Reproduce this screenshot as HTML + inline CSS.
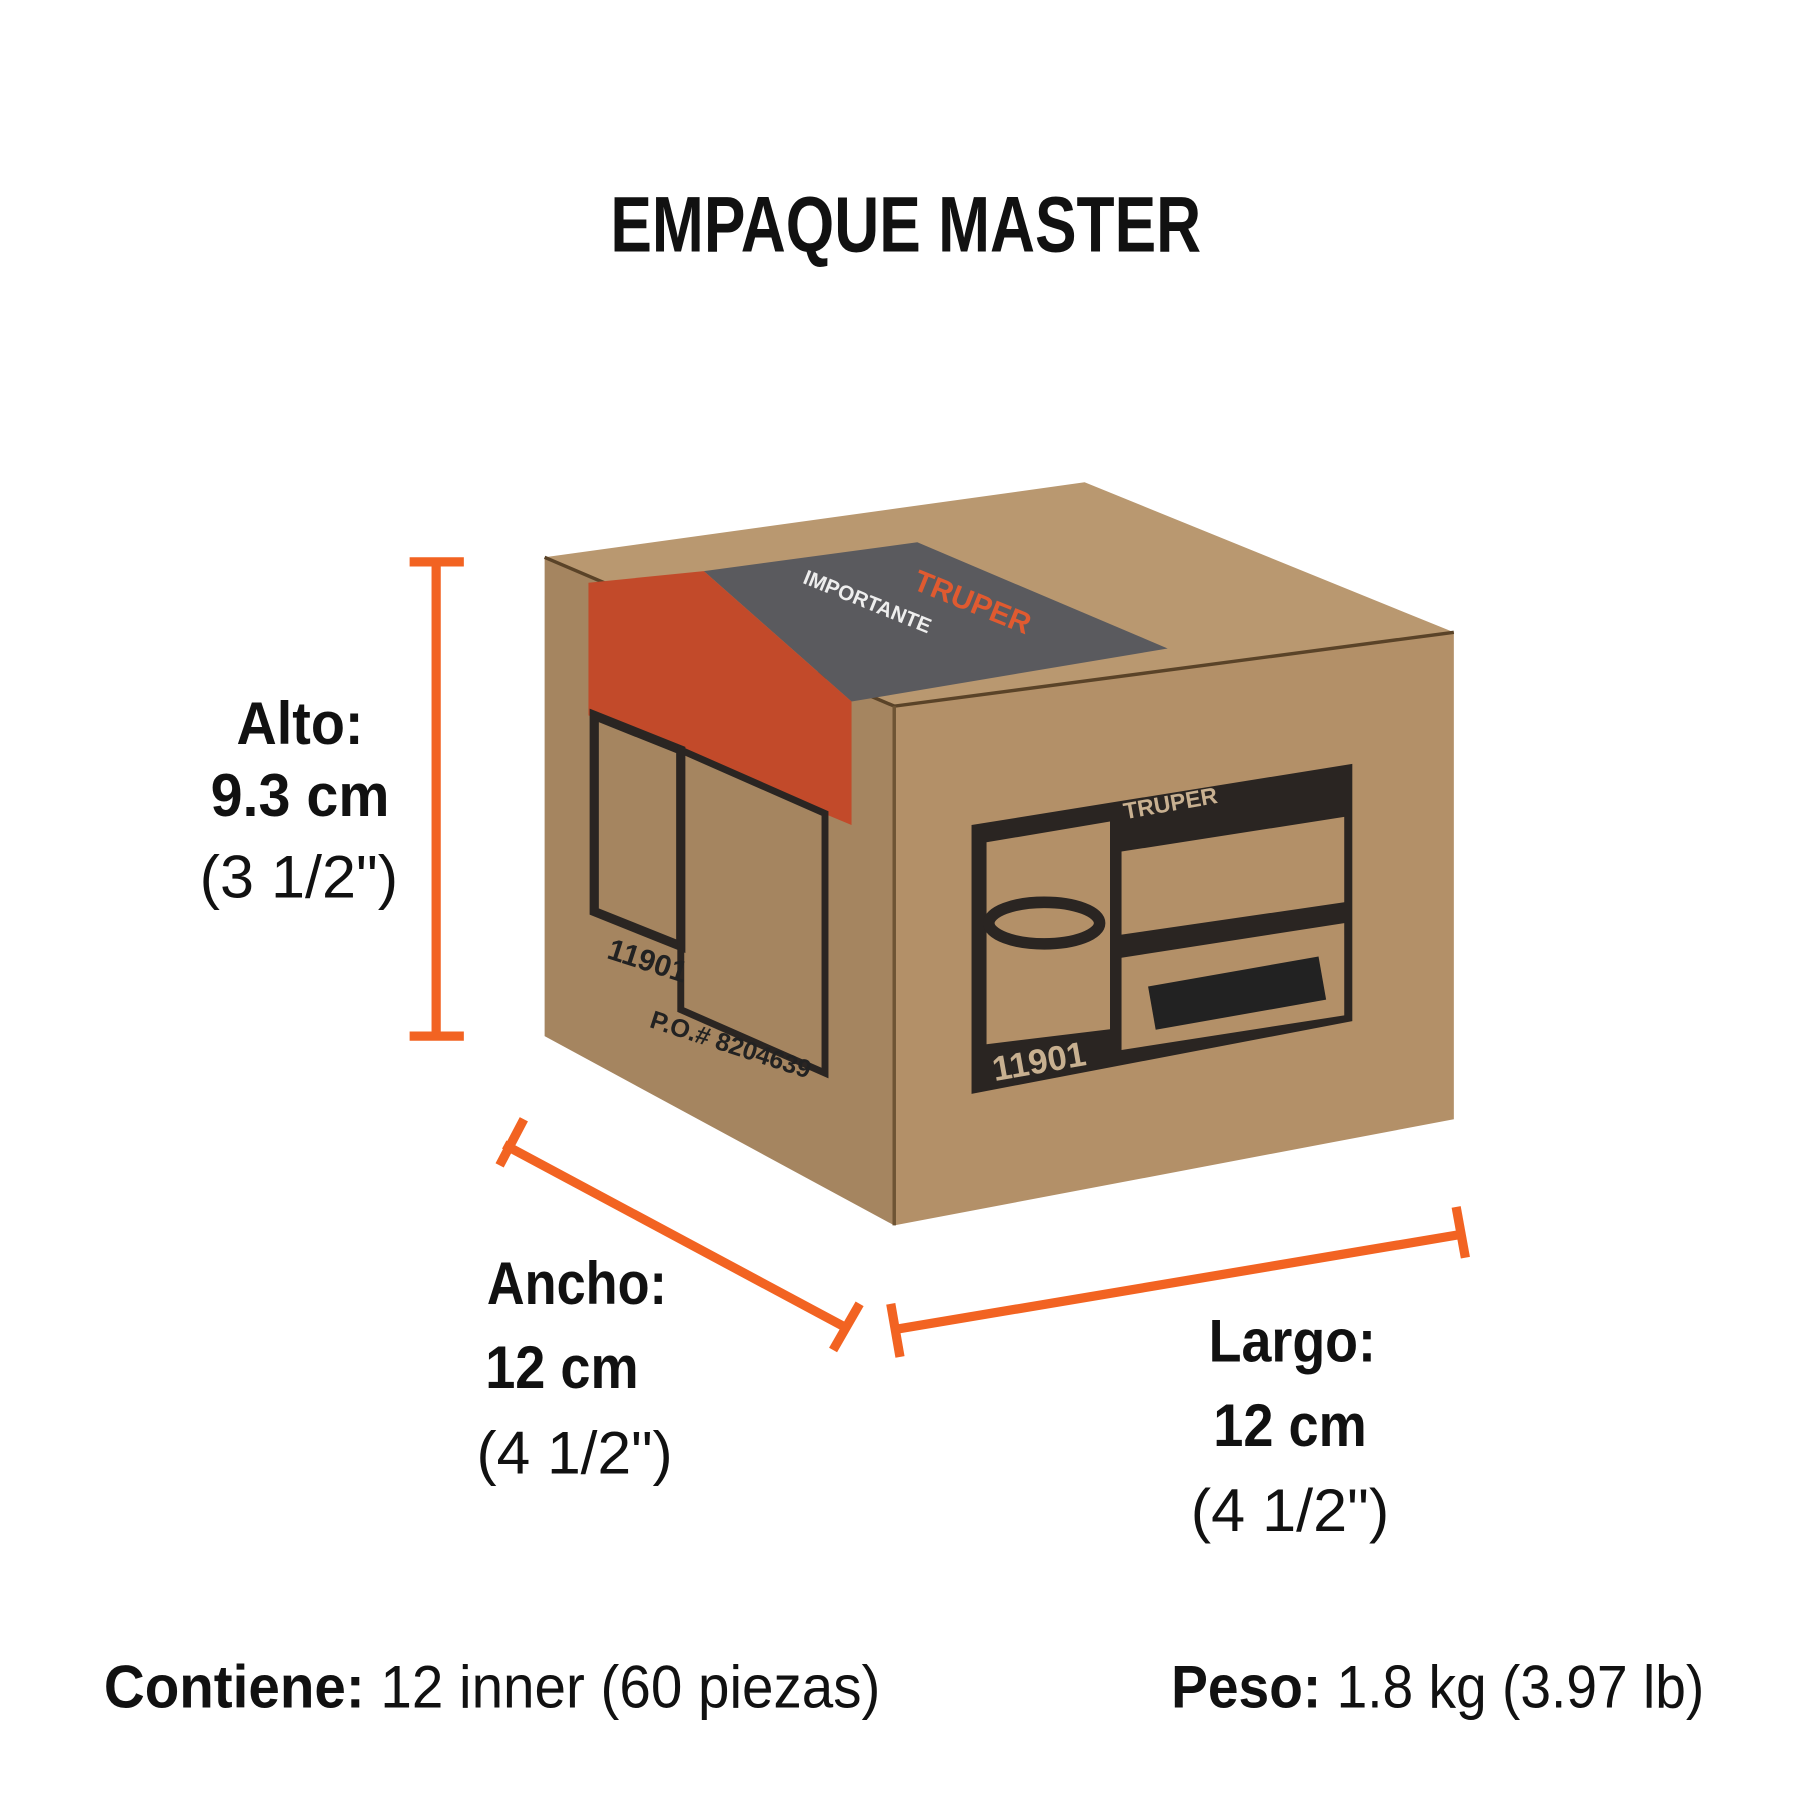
<!DOCTYPE html>
<html><head><meta charset="utf-8"><style>
html,body{margin:0;padding:0;background:#fff;width:1800px;height:1800px;overflow:hidden}
svg{display:block}
text{font-family:"Liberation Sans Narrow","Liberation Sans",sans-serif;font-weight:bold;fill:#111}
</style></head><body>
<svg width="1800" height="1800" viewBox="0 0 1560 1560" xmlns="http://www.w3.org/2000/svg">
<text x="785" y="218" font-size="68" text-anchor="middle" textLength="512" lengthAdjust="spacingAndGlyphs">EMPAQUE MASTER</text>
<!-- box -->
<polygon points="472,483 940,418 1260,548 775,612" fill="#b99870"/>
<polygon points="472,483 775,612 775,1062 472,898" fill="#a58560"/>
<polygon points="775,612 1260,548 1260,970 775,1062" fill="#b39068"/>
<polyline points="472,483 775,612 1260,548" fill="none" stroke="#5a4328" stroke-width="3"/>
<line x1="775" y1="612" x2="775" y2="1062" stroke="#6e5434" stroke-width="3"/>
<!-- top label -->
<polygon points="610,495 795,470 1012,562 738,608" fill="#5a5a5e"/>
<polygon points="510,505 610,495 738,608 738,715 510,620" fill="#c24a2a"/>
<text x="0" y="0" font-size="26" transform="translate(790,510) rotate(22)" style="fill:#e05a30">TRUPER</text>
<text x="0" y="0" font-size="18" transform="translate(695,505) rotate(22)" style="fill:#eee">IMPORTANTE</text>
<!-- right label -->
<polygon points="842,715 1172,662 1172,885 842,948" fill="#2a2522"/>
<polygon points="855,730 962,712 962,892 855,905" fill="#b39068"/>
<polygon points="972,738 1165,708 1165,782 972,810" fill="#b39068"/>
<polygon points="972,830 1165,800 1165,880 972,910" fill="#b39068"/>
<text x="0" y="0" font-size="30" transform="translate(862,937) rotate(-10)" style="fill:#c8b090">11901</text>
<text x="0" y="0" font-size="20" transform="translate(975,710) rotate(-10)" style="fill:#c8b090">TRUPER</text>
<rect x="0" y="0" width="150" height="38" fill="#222" transform="translate(995,855) rotate(-10)"/>
<ellipse cx="905" cy="800" rx="48" ry="18" fill="none" stroke="#2a2522" stroke-width="10"/>
<!-- left face label -->
<polygon points="515,620 590,650 590,820 515,790" fill="none" stroke="#2a2522" stroke-width="8"/>
<polygon points="590,650 715,705 715,930 590,875" fill="none" stroke="#2a2522" stroke-width="6"/>
<text x="0" y="0" font-size="26" transform="translate(525,830) rotate(18)" style="fill:#222">11901</text>
<text x="0" y="0" font-size="22" transform="translate(562,890) rotate(18)" style="fill:#222">P.O.# 8204639</text>
<!-- dimension lines -->
<g stroke="#f26322" stroke-width="8" fill="none">
<line x1="378" y1="487" x2="378" y2="898"/>
<line x1="355" y1="487" x2="402" y2="487"/>
<line x1="355" y1="898" x2="402" y2="898"/>
<line x1="437" y1="992" x2="732" y2="1150"/>
<line x1="454" y1="970" x2="433" y2="1010"/>
<line x1="745" y1="1130" x2="722" y2="1170"/>
<line x1="777" y1="1152" x2="1265" y2="1070"/>
<line x1="772" y1="1130" x2="780" y2="1176"/>
<line x1="1262" y1="1046" x2="1270" y2="1090"/>
</g>
<g font-size="52" text-anchor="middle">
<text x="260" y="645" textLength="110" lengthAdjust="spacingAndGlyphs">Alto:</text>
<text x="260" y="707" textLength="155" lengthAdjust="spacingAndGlyphs">9.3 cm</text>
<text x="259" y="778" textLength="172" lengthAdjust="spacingAndGlyphs" style="font-weight:normal">(3 1/2")</text>
<text x="500" y="1130" textLength="156" lengthAdjust="spacingAndGlyphs">Ancho:</text>
<text x="487" y="1203" textLength="133" lengthAdjust="spacingAndGlyphs">12 cm</text>
<text x="498" y="1277" textLength="170" lengthAdjust="spacingAndGlyphs" style="font-weight:normal">(4 1/2")</text>
<text x="1120" y="1180" textLength="145" lengthAdjust="spacingAndGlyphs">Largo:</text>
<text x="1118" y="1253" textLength="133" lengthAdjust="spacingAndGlyphs">12 cm</text>
<text x="1118" y="1327" textLength="172" lengthAdjust="spacingAndGlyphs" style="font-weight:normal">(4 1/2")</text>
</g>
<g font-size="52">
<text x="90" y="1480" textLength="673" lengthAdjust="spacingAndGlyphs">Contiene: <tspan style="font-weight:normal">12 inner (60 piezas)</tspan></text>
<text x="1015" y="1480" textLength="462" lengthAdjust="spacingAndGlyphs">Peso: <tspan style="font-weight:normal">1.8 kg (3.97 lb)</tspan></text>
</g>
</svg>
</body></html>
